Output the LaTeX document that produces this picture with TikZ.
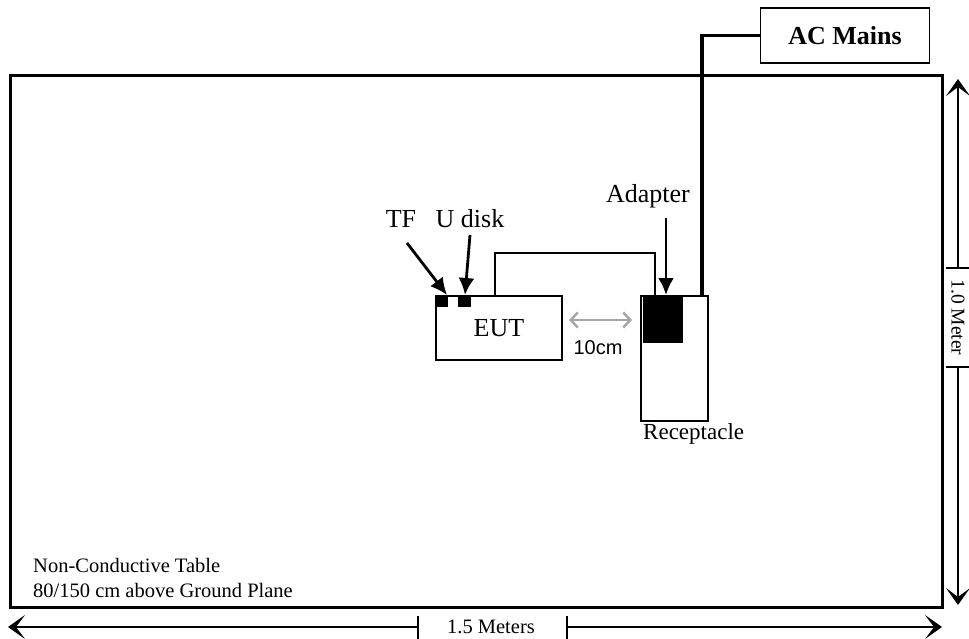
\documentclass[tikz,border=0pt]{standalone}
\usepackage{fontspec}
\setmainfont{Liberation Serif}
\newfontfamily\arialfont{Liberation Sans}
\usetikzlibrary{arrows.meta}
\begin{document}
\begin{tikzpicture}[x=1pt,y=-1pt,
  lbl/.style={font=\fontsize{26}{30}\selectfont, inner sep=0pt},
  smlbl/.style={font=\fontsize{20.5}{24}\selectfont, inner sep=0pt},
  dimlbl/.style={font=\fontsize{20.5}{24}\selectfont, inner sep=0pt},
  boxthin/.style={draw, line width=1.6pt, inner sep=0pt, outer sep=0pt},
  blk/.style={fill=black, draw=none, inner sep=0pt, outer sep=0pt},
  ptr/.style={line width=2.8pt, -{Latex[length=17pt,width=16pt]}},
  dimarrow/.style={line width=1.3pt, -{Stealth[length=17pt,width=24pt,inset=9pt]}},
  tick/.style={line width=1.3pt},
]
\useasboundingbox (0,0) rectangle (969,639);

% table
\node[draw, line width=3pt, minimum width=932pt, minimum height=531pt,
      inner sep=0pt, outer sep=0pt, anchor=north west] (table) at (10,76) {};

% AC mains
\node[boxthin, line width=1.5pt, minimum width=169pt, minimum height=55pt,
      font=\fontsize{26}{30}\selectfont\bfseries] (ac) at (845,35.5) {AC Mains};

% EUT
\node[boxthin, minimum width=126pt, minimum height=64pt, font=\fontsize{26}{30}\selectfont]
     (eut) at (499,328) {EUT};
% receptacle
\node[boxthin, minimum width=67pt, minimum height=125pt] (rec) at (674.5,358.5) {};
% adapter block
\node[blk, minimum width=40pt, minimum height=47pt, anchor=north west] (adp) at (643,296) {};
% TF and U disk blocks
\node[blk, minimum width=12pt, minimum height=11pt, anchor=north west] (tfb) at (436,296) {};
\node[blk, minimum width=13pt, minimum height=11pt, anchor=north west] (udb) at (458,296) {};

% labels
\node[lbl, anchor=base] (tf) at (401,228) {TF};
\node[lbl, anchor=base] (ud) at (470,228) {U disk};
\node[lbl, anchor=base] (adl) at (648,203) {Adapter};
\node[font=\fontsize{23}{27}\selectfont, inner sep=0pt, anchor=base west] (recl) at (643,439) {Receptacle};
\node[font=\arialfont\fontsize{20}{24}\selectfont, inner sep=0pt, anchor=base] (tencm) at (598,354) {10cm};
\node[smlbl, anchor=base west] (nc1) at (33,572) {Non-Conductive Table};
\node[smlbl, anchor=base west] (nc2) at (33,597) {80/150 cm above Ground Plane};

% pointer arrows
\coordinate (tfs) at (407,243);
\coordinate (tfe) at (447,295);
\coordinate (uds) at (470,235);
\coordinate (ude) at (465,295);
\coordinate (ads) at (666,218);
\coordinate (ade) at (666,295);
\draw[ptr] (tfs) -- (tfe);
\draw[ptr] (uds) -- (ude);
\draw[ptr] (ads) -- (ade);

% power wire
\coordinate (pw) at (702,297);
\draw[line width=3.5pt] (ac.west) -| (pw);

% cable EUT -> receptacle
\coordinate (c1) at (495,296);
\coordinate (c2) at (655,296);
\coordinate (cup) at (0,253);
\draw[line width=1.6pt] (c1) -- (c1 |- cup) -- (c2 |- cup) -- (c2);

% 10 cm gray arrow
\coordinate (g1) at (569,320);
\coordinate (g2) at (632,320);
\draw[line width=2.5pt, gray!70, {Straight Barb[length=7pt,width=15pt,line width=2.5pt]}-{Straight Barb[length=7pt,width=15pt,line width=2.5pt]}] (g1) -- (g2);

% horizontal dimension
\coordinate (hl) at (8,627);
\coordinate (hr) at (942,627);
\coordinate (ht1) at (418,627);
\coordinate (ht2) at (567,627);
\draw[dimarrow] (ht1) -- (hl);
\draw[dimarrow] (ht2) -- (hr);
\draw[tick] (ht1 |- 0,616) -- (ht1 |- 0,639);
\draw[tick] (ht2 |- 0,616) -- (ht2 |- 0,639);
\node[dimlbl] (hlab) at (491,627) {1.5 Meters};

% vertical dimension
\coordinate (vt) at (958,79);
\coordinate (vb) at (958,605);
\coordinate (vt1) at (958,268);
\coordinate (vt2) at (958,367);
\draw[dimarrow] (vt1) -- (vt);
\draw[dimarrow] (vt2) -- (vb);
\draw[tick] (946,268) -- (969,268);
\draw[tick] (946,367) -- (969,367);
\node[font=\fontsize{19.5}{23}\selectfont, inner sep=0pt, rotate=-90] (vlab) at (958,317.5) {1.0 Meter};
\end{tikzpicture}
\end{document}
